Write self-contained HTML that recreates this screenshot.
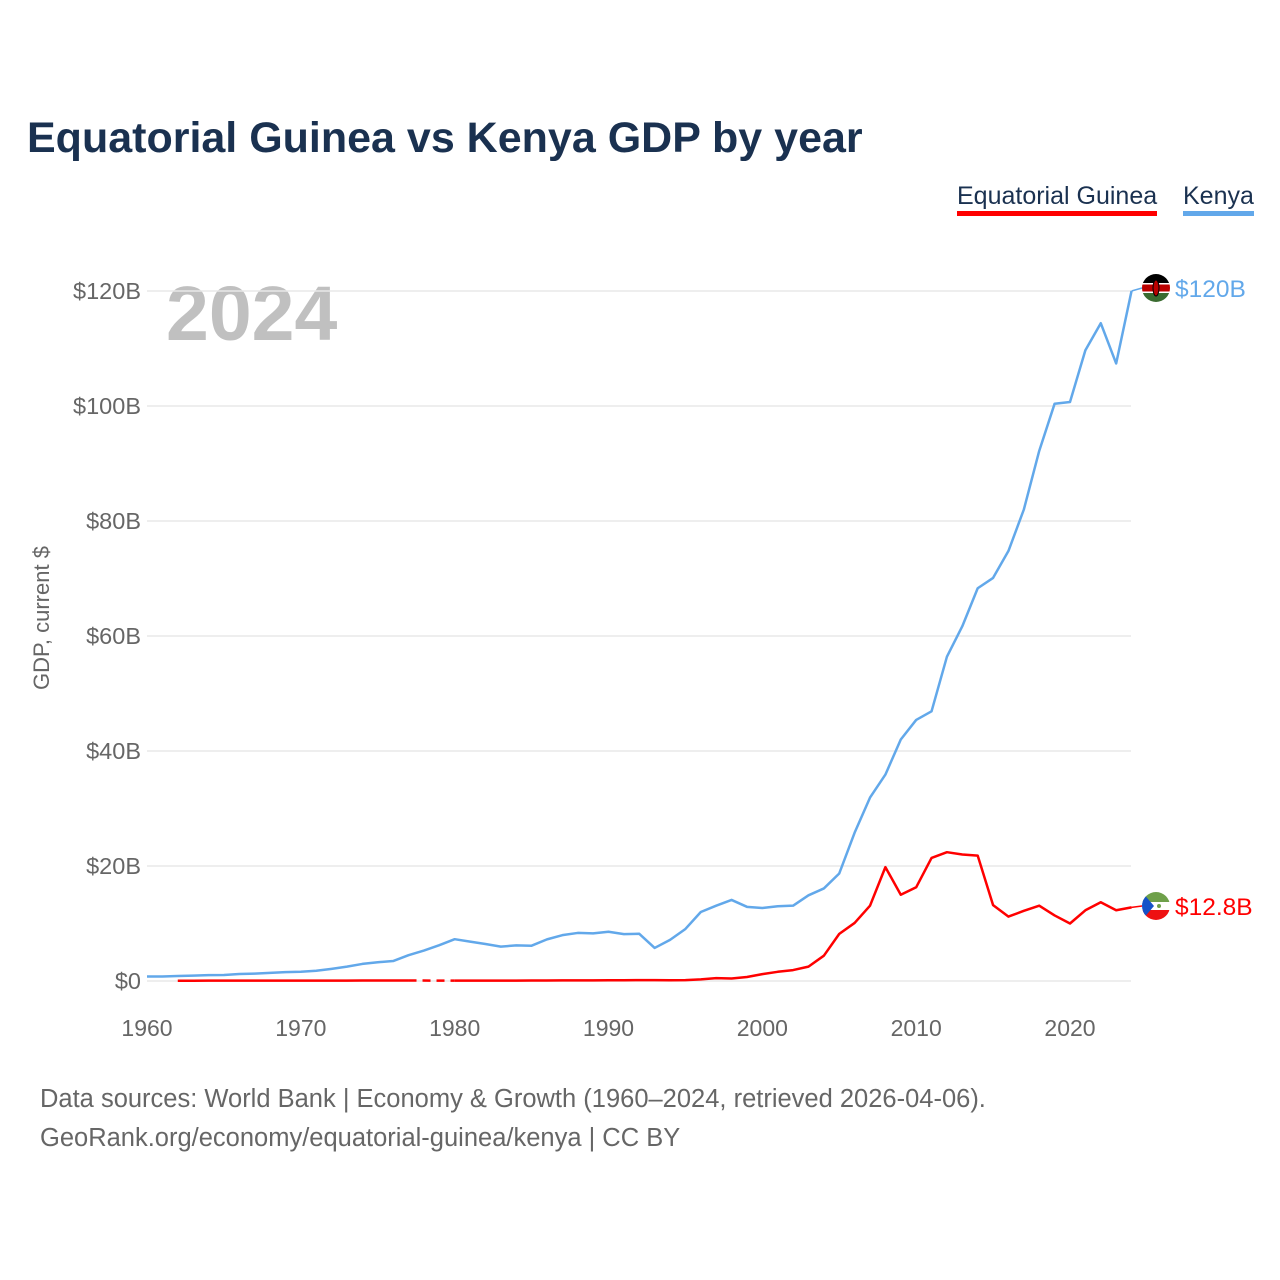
<!DOCTYPE html>
<html><head><meta charset="utf-8">
<style>
body{margin:0;background:#fff;font-family:"Liberation Sans",sans-serif;}
#wrap{position:relative;width:1280px;height:1280px;overflow:hidden;}
.t{position:absolute;white-space:nowrap;}
</style></head>
<body><div id="wrap">
<div class="t" style="left:27px;top:114px;font-size:43px;font-weight:bold;color:#1a3150;">Equatorial Guinea vs Kenya GDP by year</div>
<div class="t" style="left:957px;top:181px;font-size:25px;color:#1a3150;border-bottom:5px solid #ff0000;padding-bottom:0px;line-height:30px;">Equatorial Guinea</div>
<div class="t" style="left:1183px;top:181px;font-size:25px;color:#1a3150;border-bottom:5px solid #62a8ea;line-height:30px;">Kenya</div>
<div class="t" style="left:166px;top:270px;font-size:77px;font-weight:bold;color:#c0c0c0;">2024</div>
<div class="t" style="left:42px;top:618px;font-size:22px;color:#666;transform:translate(-50%,-50%) rotate(-90deg);">GDP, current $</div>
<svg id="chart" width="1280" height="1280" style="position:absolute;left:0;top:0"></svg>
<div class="t" style="left:40px;top:1080px;font-size:25.5px;color:#666;line-height:39px;">Data sources: World Bank | Economy &amp; Growth (1960–2024, retrieved 2026-04-06).<br>GeoRank.org/economy/equatorial-guinea/kenya | CC BY</div>
</div>
<script>
const years=[];for(let y=1960;y<=2024;y++)years.push(y);
const kenya=[0.79,0.79,0.87,0.93,1.02,1.04,1.21,1.29,1.41,1.54,1.60,1.78,2.11,2.50,2.97,3.26,3.47,4.49,5.30,6.23,7.27,6.85,6.43,5.98,6.19,6.14,7.24,7.97,8.36,8.28,8.57,8.15,8.21,5.75,7.15,9.05,12.0,13.1,14.1,12.9,12.7,13.0,13.1,14.9,16.1,18.7,25.8,31.9,35.9,42.0,45.4,46.9,56.4,61.7,68.3,70.1,74.8,82.0,92.2,100.4,100.7,109.7,114.4,107.4,120.0];
const eqg=[null,null,0.05,0.05,0.06,0.06,0.06,0.07,0.07,0.07,0.07,0.06,0.07,0.07,0.08,0.09,0.09,0.09,null,null,0.06,0.06,0.06,0.06,0.06,0.08,0.09,0.10,0.11,0.10,0.13,0.13,0.15,0.15,0.12,0.16,0.28,0.5,0.44,0.7,1.2,1.6,1.9,2.5,4.4,8.2,10.1,13.1,19.8,15.0,16.3,21.4,22.4,22.0,21.8,13.2,11.2,12.2,13.1,11.4,10.0,12.3,13.7,12.3,12.8];
const yTicks=[0,20,40,60,80,100,120];
const xTicks=[1960,1970,1980,1990,2000,2010,2020];
const X=y=>147+(y-1960)*923/60;
const Y=v=>981-v*5.75;
const svg=document.getElementById('chart');const NS='http://www.w3.org/2000/svg';
function mk(t,a){const e=document.createElementNS(NS,t);for(const k in a)e.setAttribute(k,a[k]);svg.appendChild(e);return e;}
yTicks.forEach(v=>{
 const l=mk('line',{x1:147,x2:1131,y1:Y(v),y2:Y(v),stroke:'#e8e8e8','stroke-width':1.5});
 
 
 const t=mk('text',{x:141,y:Y(v)+8,'text-anchor':'end','font-size':23.5,fill:'#666','font-family':'Liberation Sans'});
 t.textContent='$'+v+(v?'B':'');
 
 
});
xTicks.forEach(v=>{
 const t=mk('text',{x:X(v),y:1036,'text-anchor':'middle','font-size':23,fill:'#666','font-family':'Liberation Sans'});
 t.textContent=v;
 
 
});
function draw(vals,color,name){
 let segs=[],cur=[],lastPt=null;
 vals.forEach((v,i)=>{
  if(v==null){if(cur.length)segs.push(cur);cur=[];return;}
  const p=[X(years[i]),Y(v)];
  if(!cur.length&&lastPt&&segs.length){const d=mk('path',{d:'M'+lastPt+'L'+p,stroke:color,'stroke-width':2.5,fill:'none','stroke-dasharray':'8,6'});}
  cur.push(p);lastPt=p;
 });
 if(cur.length)segs.push(cur);
 segs.forEach(s=>{const p=mk('path',{d:'M'+s.map(q=>q.join(',')).join('L'),stroke:color,'stroke-width':2.5,fill:'none','stroke-linejoin':'round'});
 
 });
 return lastPt;
}
const kp=draw(kenya,'#62a8ea','kenya');
const ep=draw(eqg,'#ff0000','equatorial-guinea');
function flag(cx,cy,kind){
 const g=document.createElementNS(NS,'g');svg.appendChild(g);
 
 
 const id='c'+kind;
 g.innerHTML=`<clipPath id="${id}"><circle cx="${cx}" cy="${cy}" r="14"/></clipPath>`+
 (kind==='kenya'?
 `<g clip-path="url(#${id})"><rect x="${cx-14}" y="${cy-14}" width="28" height="9" fill="#000"/><rect x="${cx-14}" y="${cy-5}" width="28" height="1.5" fill="#fff"/><rect x="${cx-14}" y="${cy-3.5}" width="28" height="7" fill="#b00"/><rect x="${cx-14}" y="${cy+3.5}" width="28" height="1.5" fill="#fff"/><rect x="${cx-14}" y="${cy+5}" width="28" height="9" fill="#3a6b30"/><ellipse cx="${cx}" cy="${cy}" rx="3" ry="8" fill="#b00" stroke="#000" stroke-width="1"/></g>`:
 `<g clip-path="url(#${id})"><rect x="${cx-14}" y="${cy-14}" width="28" height="10" fill="#6ea04a"/><rect x="${cx-14}" y="${cy-4}" width="28" height="8" fill="#fff"/><rect x="${cx-14}" y="${cy+4}" width="28" height="10" fill="#e11"/><path d="M${cx-14},${cy-14}L${cx-2},${cy}L${cx-14},${cy+14}Z" fill="#1552c8"/><circle cx="${cx+3}" cy="${cy}" r="2" fill="#6ea04a"/></g>`);
}
function endLabel(p,cy,color,text,name){
 const l=mk('line',{x1:p[0],y1:p[1],x2:1142,y2:cy,stroke:color,'stroke-width':1.5});
 
 
 const t=mk('text',{x:1175,y:cy+9,'font-size':24.5,fill:color,'font-family':'Liberation Sans'});
 t.textContent=text;
 
 
}
endLabel(kp,288,'#62a8ea','$'+Math.round(kenya[kenya.length-1])+'B','kenya');
endLabel(ep,906,'#ff0000','$'+eqg[eqg.length-1].toFixed(1)+'B','equatorial-guinea');
flag(1156,288,'kenya');
flag(1156,906,'eqg');
</script></body></html>
